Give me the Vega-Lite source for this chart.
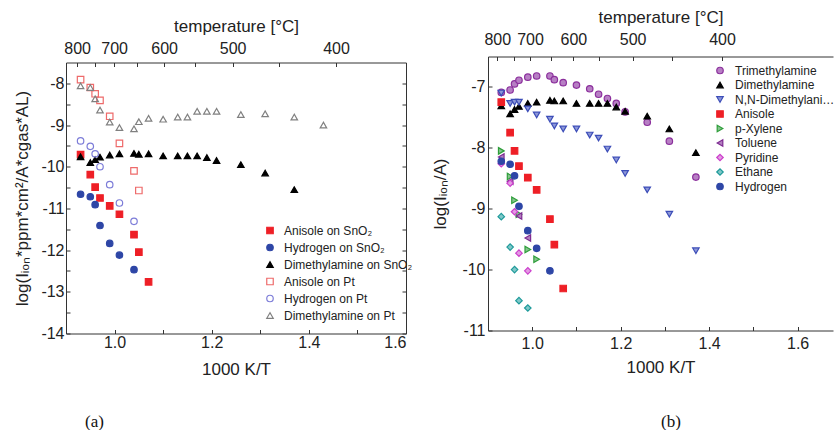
{
  "$schema": "https://vega.github.io/schema/vega-lite/v6.json",
  "background": "white",
  "padding": {"left": 13, "top": 7.5, "right": 0, "bottom": 0},
  "spacing": 18,
  "resolve": {
    "scale": {"shape": "independent", "stroke": "independent", "fill": "independent"},
    "legend": {"shape": "independent", "stroke": "independent", "fill": "independent"}
  },
  "config": {
    "view": {"stroke": null},
    "font": "Liberation Sans",
    "axis": {
      "grid": false,
      "domainColor": "#333333",
      "tickColor": "#333333",
      "labelColor": "#222222",
      "titleColor": "#222222",
      "labelFont": "Liberation Sans",
      "titleFont": "Liberation Sans",
      "labelFontSize": 16,
      "titleFontSize": 17,
      "titleFontWeight": "normal",
      "tickSize": -4,
      "labelPadding": 5
    },
    "legend": {
      "labelFont": "Liberation Sans",
      "labelColor": "#222222",
      "symbolStrokeWidth": 1.2,
      "padding": 0
    }
  },
  "hconcat": [
    {
      "spacing": -43,
      "vconcat": [
        {
          "width": 340,
          "height": 1,
          "data": {"values": [{}]},
          "mark": {"type": "point", "opacity": 0},
          "encoding": {}
        },
        {
          "width": 340,
          "height": 271,
          "title": {"text": "(a)", "orient": "bottom", "anchor": "start", "frame": "group", "dx": 19, "offset": 36, "font": "Liberation Serif", "fontSize": 17, "fontWeight": "normal", "color": "#111111"},
          "data": {"values": [
            {"x": 0.93, "y": -9.71, "s": "Anisole on SnO₂"},
            {"x": 0.95, "y": -10.19, "s": "Anisole on SnO₂"},
            {"x": 0.96, "y": -10.49, "s": "Anisole on SnO₂"},
            {"x": 0.97, "y": -10.75, "s": "Anisole on SnO₂"},
            {"x": 0.99, "y": -10.94, "s": "Anisole on SnO₂"},
            {"x": 1.01, "y": -11.14, "s": "Anisole on SnO₂"},
            {"x": 1.04, "y": -11.63, "s": "Anisole on SnO₂"},
            {"x": 1.05, "y": -12.05, "s": "Anisole on SnO₂"},
            {"x": 1.07, "y": -12.76, "s": "Anisole on SnO₂"},
            {"x": 0.93, "y": -10.66, "s": "Hydrogen on SnO₂"},
            {"x": 0.95, "y": -10.72, "s": "Hydrogen on SnO₂"},
            {"x": 0.96, "y": -10.91, "s": "Hydrogen on SnO₂"},
            {"x": 0.97, "y": -11.41, "s": "Hydrogen on SnO₂"},
            {"x": 0.99, "y": -11.84, "s": "Hydrogen on SnO₂"},
            {"x": 1.01, "y": -12.12, "s": "Hydrogen on SnO₂"},
            {"x": 1.04, "y": -12.47, "s": "Hydrogen on SnO₂"},
            {"x": 0.93, "y": -9.76, "s": "Dimethylamine on SnO₂"},
            {"x": 0.95, "y": -9.90, "s": "Dimethylamine on SnO₂"},
            {"x": 0.96, "y": -9.83, "s": "Dimethylamine on SnO₂"},
            {"x": 0.97, "y": -9.77, "s": "Dimethylamine on SnO₂"},
            {"x": 0.99, "y": -9.72, "s": "Dimethylamine on SnO₂"},
            {"x": 1.01, "y": -9.69, "s": "Dimethylamine on SnO₂"},
            {"x": 1.04, "y": -9.68, "s": "Dimethylamine on SnO₂"},
            {"x": 1.05, "y": -9.70, "s": "Dimethylamine on SnO₂"},
            {"x": 1.07, "y": -9.69, "s": "Dimethylamine on SnO₂"},
            {"x": 1.10, "y": -9.74, "s": "Dimethylamine on SnO₂"},
            {"x": 1.13, "y": -9.74, "s": "Dimethylamine on SnO₂"},
            {"x": 1.15, "y": -9.74, "s": "Dimethylamine on SnO₂"},
            {"x": 1.17, "y": -9.74, "s": "Dimethylamine on SnO₂"},
            {"x": 1.19, "y": -9.78, "s": "Dimethylamine on SnO₂"},
            {"x": 1.21, "y": -9.85, "s": "Dimethylamine on SnO₂"},
            {"x": 1.26, "y": -9.95, "s": "Dimethylamine on SnO₂"},
            {"x": 1.31, "y": -10.15, "s": "Dimethylamine on SnO₂"},
            {"x": 1.37, "y": -10.55, "s": "Dimethylamine on SnO₂"},
            {"x": 0.93, "y": -7.91, "s": "Anisole on Pt"},
            {"x": 0.95, "y": -8.10, "s": "Anisole on Pt"},
            {"x": 0.96, "y": -8.25, "s": "Anisole on Pt"},
            {"x": 0.97, "y": -8.41, "s": "Anisole on Pt"},
            {"x": 0.99, "y": -8.79, "s": "Anisole on Pt"},
            {"x": 1.01, "y": -9.44, "s": "Anisole on Pt"},
            {"x": 1.04, "y": -10.10, "s": "Anisole on Pt"},
            {"x": 1.05, "y": -10.57, "s": "Anisole on Pt"},
            {"x": 0.93, "y": -9.38, "s": "Hydrogen on Pt"},
            {"x": 0.95, "y": -9.51, "s": "Hydrogen on Pt"},
            {"x": 0.96, "y": -9.69, "s": "Hydrogen on Pt"},
            {"x": 0.97, "y": -10.0, "s": "Hydrogen on Pt"},
            {"x": 0.99, "y": -10.43, "s": "Hydrogen on Pt"},
            {"x": 1.01, "y": -10.87, "s": "Hydrogen on Pt"},
            {"x": 1.04, "y": -11.31, "s": "Hydrogen on Pt"},
            {"x": 0.93, "y": -8.06, "s": "Dimethylamine on Pt"},
            {"x": 0.95, "y": -8.10, "s": "Dimethylamine on Pt"},
            {"x": 0.96, "y": -8.37, "s": "Dimethylamine on Pt"},
            {"x": 0.97, "y": -8.64, "s": "Dimethylamine on Pt"},
            {"x": 0.99, "y": -8.93, "s": "Dimethylamine on Pt"},
            {"x": 1.01, "y": -9.06, "s": "Dimethylamine on Pt"},
            {"x": 1.04, "y": -9.09, "s": "Dimethylamine on Pt"},
            {"x": 1.05, "y": -8.92, "s": "Dimethylamine on Pt"},
            {"x": 1.07, "y": -8.84, "s": "Dimethylamine on Pt"},
            {"x": 1.10, "y": -8.86, "s": "Dimethylamine on Pt"},
            {"x": 1.13, "y": -8.81, "s": "Dimethylamine on Pt"},
            {"x": 1.15, "y": -8.81, "s": "Dimethylamine on Pt"},
            {"x": 1.17, "y": -8.67, "s": "Dimethylamine on Pt"},
            {"x": 1.19, "y": -8.67, "s": "Dimethylamine on Pt"},
            {"x": 1.21, "y": -8.67, "s": "Dimethylamine on Pt"},
            {"x": 1.26, "y": -8.75, "s": "Dimethylamine on Pt"},
            {"x": 1.31, "y": -8.73, "s": "Dimethylamine on Pt"},
            {"x": 1.37, "y": -8.81, "s": "Dimethylamine on Pt"},
            {"x": 1.43, "y": -9.0, "s": "Dimethylamine on Pt"}
          ]},
          "layer": [
            {
              "mark": {"type": "point", "size": 42, "strokeWidth": 1.2, "opacity": 1},
              "encoding": {
                "x": {"field": "x", "type": "quantitative",
                  "scale": {"domain": [0.9, 1.6], "nice": false, "zero": false},
                  "axis": {"orient": "bottom", "title": "1000 K/T", "values": [1.0, 1.1, 1.2, 1.3, 1.4, 1.5, 1.6],
                    "labelExpr": "indexof([1, 1.2, 1.4, 1.6], datum.value) >= 0 ? format(datum.value, '.1f') : ''",
                    "labelPadding": 5, "titlePadding": 11}},
                "y": {"field": "y", "type": "quantitative",
                  "scale": {"domain": [-14, -7.5], "nice": false, "zero": false},
                  "axis": {"orient": "left", "title": "log(Iᵢₒₙ*ppm*cm²/A*cgas*AL)",
                    "values": [-14, -13.5, -13, -12.5, -12, -11.5, -11, -10.5, -10, -9.5, -9, -8.5, -8],
                    "labelExpr": "datum.value % 1 == 0 ? '-' + abs(datum.value) : ''",
                    "labelPadding": 6, "titlePadding": 9}},
                "shape": {"field": "s", "type": "nominal",
                  "scale": {"domain": ["Anisole on SnO₂", "Hydrogen on SnO₂", "Dimethylamine on SnO₂", "Anisole on Pt", "Hydrogen on Pt", "Dimethylamine on Pt"],
                    "range": ["square", "circle", "triangle-up", "square", "circle", "triangle-up"]},
                  "legend": {"title": null, "orient": "none", "legendX": 198, "legendY": 168, "labelFontSize": 12, "rowPadding": 5, "symbolSize": 42, "labelOffset": 8}},
                "stroke": {"field": "s", "type": "nominal",
                  "scale": {"domain": ["Anisole on SnO₂", "Hydrogen on SnO₂", "Dimethylamine on SnO₂", "Anisole on Pt", "Hydrogen on Pt", "Dimethylamine on Pt"],
                    "range": ["#ee1f26", "#2e46a6", "#000000", "#ee6a6a", "#7c7cd8", "#808080"]},
                  "legend": {"title": null, "orient": "none", "legendX": 198, "legendY": 168, "labelFontSize": 12, "rowPadding": 5, "symbolSize": 42, "labelOffset": 8}},
                "fill": {"field": "s", "type": "nominal",
                  "scale": {"domain": ["Anisole on SnO₂", "Hydrogen on SnO₂", "Dimethylamine on SnO₂", "Anisole on Pt", "Hydrogen on Pt", "Dimethylamine on Pt"],
                    "range": ["#ee1f26", "#2e46a6", "#000000", "transparent", "transparent", "transparent"]},
                  "legend": {"title": null, "orient": "none", "legendX": 198, "legendY": 168, "labelFontSize": 12, "rowPadding": 5, "symbolSize": 42, "labelOffset": 8}}
              }
            },
            {
              "mark": {"type": "point", "opacity": 0},
              "encoding": {
                "x": {"field": "x", "type": "quantitative",
                  "axis": {"orient": "top", "title": "temperature [°C]",
                    "values": [0.923, 0.999, 1.102, 1.243, 1.456, 0.959, 1.046, 1.166, 1.339],
                    "labelExpr": "datum.value == 0.923 ? '800' : datum.value == 0.999 ? '700' : datum.value == 1.102 ? '600' : datum.value == 1.243 ? '500' : datum.value == 1.456 ? '400' : ''",
                    "labelPadding": 10, "titlePadding": 5}},
                "y": {"field": "y", "type": "quantitative",
                  "axis": {"orient": "right", "title": null, "labels": false,
                    "values": [-14, -13.5, -13, -12.5, -12, -11.5, -11, -10.5, -10, -9.5, -9, -8.5, -8]}}
              }
            }
          ],
          "resolve": {"axis": {"x": "independent", "y": "independent"}}
        }
      ]
    },
    {
      "width": 345,
      "height": 274,
      "title": {"text": "(b)", "orient": "bottom", "anchor": "start", "frame": "group", "dx": 173, "offset": 38, "font": "Liberation Serif", "fontSize": 17, "fontWeight": "normal", "color": "#111111"},
      "data": {"values": [
        {"x": 0.93, "y": -7.09, "s": "Trimethylamine"},
        {"x": 0.95, "y": -7.05, "s": "Trimethylamine"},
        {"x": 0.96, "y": -6.95, "s": "Trimethylamine"},
        {"x": 0.97, "y": -6.89, "s": "Trimethylamine"},
        {"x": 0.99, "y": -6.84, "s": "Trimethylamine"},
        {"x": 1.01, "y": -6.82, "s": "Trimethylamine"},
        {"x": 1.04, "y": -6.82, "s": "Trimethylamine"},
        {"x": 1.05, "y": -6.88, "s": "Trimethylamine"},
        {"x": 1.07, "y": -6.93, "s": "Trimethylamine"},
        {"x": 1.10, "y": -6.97, "s": "Trimethylamine"},
        {"x": 1.13, "y": -7.03, "s": "Trimethylamine"},
        {"x": 1.15, "y": -7.12, "s": "Trimethylamine"},
        {"x": 1.17, "y": -7.19, "s": "Trimethylamine"},
        {"x": 1.19, "y": -7.27, "s": "Trimethylamine"},
        {"x": 1.21, "y": -7.41, "s": "Trimethylamine"},
        {"x": 1.26, "y": -7.58, "s": "Trimethylamine"},
        {"x": 1.31, "y": -7.89, "s": "Trimethylamine"},
        {"x": 1.37, "y": -8.48, "s": "Trimethylamine"},
        {"x": 0.93, "y": -7.31, "s": "Dimethylamine"},
        {"x": 0.95, "y": -7.44, "s": "Dimethylamine"},
        {"x": 0.96, "y": -7.37, "s": "Dimethylamine"},
        {"x": 0.97, "y": -7.32, "s": "Dimethylamine"},
        {"x": 0.99, "y": -7.27, "s": "Dimethylamine"},
        {"x": 1.01, "y": -7.25, "s": "Dimethylamine"},
        {"x": 1.04, "y": -7.22, "s": "Dimethylamine"},
        {"x": 1.05, "y": -7.23, "s": "Dimethylamine"},
        {"x": 1.07, "y": -7.23, "s": "Dimethylamine"},
        {"x": 1.10, "y": -7.27, "s": "Dimethylamine"},
        {"x": 1.13, "y": -7.27, "s": "Dimethylamine"},
        {"x": 1.15, "y": -7.27, "s": "Dimethylamine"},
        {"x": 1.17, "y": -7.27, "s": "Dimethylamine"},
        {"x": 1.19, "y": -7.33, "s": "Dimethylamine"},
        {"x": 1.21, "y": -7.40, "s": "Dimethylamine"},
        {"x": 1.26, "y": -7.48, "s": "Dimethylamine"},
        {"x": 1.31, "y": -7.69, "s": "Dimethylamine"},
        {"x": 1.37, "y": -8.08, "s": "Dimethylamine"},
        {"x": 0.93, "y": -7.10, "s": "N,N-Dimethylaniline"},
        {"x": 0.95, "y": -7.27, "s": "N,N-Dimethylaniline"},
        {"x": 0.96, "y": -7.25, "s": "N,N-Dimethylaniline"},
        {"x": 0.97, "y": -7.25, "s": "N,N-Dimethylaniline"},
        {"x": 0.99, "y": -7.36, "s": "N,N-Dimethylaniline"},
        {"x": 1.01, "y": -7.46, "s": "N,N-Dimethylaniline"},
        {"x": 1.04, "y": -7.53, "s": "N,N-Dimethylaniline"},
        {"x": 1.05, "y": -7.64, "s": "N,N-Dimethylaniline"},
        {"x": 1.07, "y": -7.69, "s": "N,N-Dimethylaniline"},
        {"x": 1.10, "y": -7.69, "s": "N,N-Dimethylaniline"},
        {"x": 1.13, "y": -7.79, "s": "N,N-Dimethylaniline"},
        {"x": 1.15, "y": -7.84, "s": "N,N-Dimethylaniline"},
        {"x": 1.17, "y": -8.02, "s": "N,N-Dimethylaniline"},
        {"x": 1.19, "y": -8.20, "s": "N,N-Dimethylaniline"},
        {"x": 1.21, "y": -8.42, "s": "N,N-Dimethylaniline"},
        {"x": 1.26, "y": -8.69, "s": "N,N-Dimethylaniline"},
        {"x": 1.31, "y": -9.09, "s": "N,N-Dimethylaniline"},
        {"x": 1.37, "y": -9.69, "s": "N,N-Dimethylaniline"},
        {"x": 0.93, "y": -7.25, "s": "Anisole"},
        {"x": 0.95, "y": -7.75, "s": "Anisole"},
        {"x": 0.96, "y": -8.05, "s": "Anisole"},
        {"x": 0.97, "y": -8.30, "s": "Anisole"},
        {"x": 0.99, "y": -8.49, "s": "Anisole"},
        {"x": 1.01, "y": -8.69, "s": "Anisole"},
        {"x": 1.04, "y": -9.17, "s": "Anisole"},
        {"x": 1.05, "y": -9.59, "s": "Anisole"},
        {"x": 1.07, "y": -10.31, "s": "Anisole"},
        {"x": 0.93, "y": -8.05, "s": "p-Xylene"},
        {"x": 0.95, "y": -8.47, "s": "p-Xylene"},
        {"x": 0.96, "y": -8.86, "s": "p-Xylene"},
        {"x": 0.97, "y": -9.09, "s": "p-Xylene"},
        {"x": 0.99, "y": -9.67, "s": "p-Xylene"},
        {"x": 1.01, "y": -9.83, "s": "p-Xylene"},
        {"x": 0.93, "y": -8.15, "s": "Toluene"},
        {"x": 0.95, "y": -8.55, "s": "Toluene"},
        {"x": 0.97, "y": -9.12, "s": "Toluene"},
        {"x": 0.99, "y": -9.48, "s": "Toluene"},
        {"x": 0.93, "y": -8.26, "s": "Pyridine"},
        {"x": 0.95, "y": -8.58, "s": "Pyridine"},
        {"x": 0.96, "y": -9.05, "s": "Pyridine"},
        {"x": 0.97, "y": -9.73, "s": "Pyridine"},
        {"x": 0.99, "y": -10.02, "s": "Pyridine"},
        {"x": 0.93, "y": -9.13, "s": "Ethane"},
        {"x": 0.95, "y": -9.63, "s": "Ethane"},
        {"x": 0.96, "y": -10.0, "s": "Ethane"},
        {"x": 0.97, "y": -10.51, "s": "Ethane"},
        {"x": 0.99, "y": -10.63, "s": "Ethane"},
        {"x": 0.93, "y": -8.22, "s": "Hydrogen"},
        {"x": 0.95, "y": -8.27, "s": "Hydrogen"},
        {"x": 0.96, "y": -8.46, "s": "Hydrogen"},
        {"x": 0.97, "y": -8.96, "s": "Hydrogen"},
        {"x": 0.99, "y": -9.36, "s": "Hydrogen"},
        {"x": 1.01, "y": -9.65, "s": "Hydrogen"},
        {"x": 1.04, "y": -10.02, "s": "Hydrogen"}
      ]},
      "layer": [
        {
          "mark": {"type": "point", "size": 42, "strokeWidth": 1.2, "opacity": 1},
          "encoding": {
            "x": {"field": "x", "type": "quantitative",
              "scale": {"domain": [0.9, 1.68], "nice": false, "zero": false},
              "axis": {"orient": "bottom", "title": "1000 K/T", "values": [1.0, 1.1, 1.2, 1.3, 1.4, 1.5, 1.6],
                "labelExpr": "indexof([1, 1.2, 1.4, 1.6], datum.value) >= 0 ? format(datum.value, '.1f') : ''",
                "labelPadding": 9, "titlePadding": 8}},
            "y": {"field": "y", "type": "quantitative",
              "scale": {"domain": [-11, -6.5], "nice": false, "zero": false},
              "axis": {"orient": "left", "title": "log(Iᵢₒₙ/A)",
                "values": [-11, -10.5, -10, -9.5, -9, -8.5, -8, -7.5, -7],
                "labelExpr": "datum.value % 1 == 0 ? '-' + abs(datum.value) : ''",
                "labelPadding": 7, "titlePadding": 12}},
            "shape": {"field": "s", "type": "nominal",
              "scale": {"domain": ["Trimethylamine", "Dimethylamine", "N,N-Dimethylaniline", "Anisole", "p-Xylene", "Toluene", "Pyridine", "Ethane", "Hydrogen"],
                "range": ["circle", "triangle-up", "triangle-down", "square", "triangle-right", "triangle-left", "diamond", "diamond", "circle"]},
              "legend": {"title": null, "orient": "none", "legendX": 226, "legendY": 8, "labelFontSize": 12, "rowPadding": 2.5, "symbolSize": 42, "labelOffset": 9, "labelLimit": 100}},
            "stroke": {"field": "s", "type": "nominal",
              "scale": {"domain": ["Trimethylamine", "Dimethylamine", "N,N-Dimethylaniline", "Anisole", "p-Xylene", "Toluene", "Pyridine", "Ethane", "Hydrogen"],
                "range": ["#8b2f9c", "#000000", "#3c4db8", "#ee1f26", "#2e9e3a", "#7e2a92", "#cc3fcc", "#1e9a9a", "#2e46a6"]},
              "legend": {"title": null, "orient": "none", "legendX": 226, "legendY": 8, "labelFontSize": 12, "rowPadding": 2.5, "symbolSize": 42, "labelOffset": 9, "labelLimit": 100}},
            "fill": {"field": "s", "type": "nominal",
              "scale": {"domain": ["Trimethylamine", "Dimethylamine", "N,N-Dimethylaniline", "Anisole", "p-Xylene", "Toluene", "Pyridine", "Ethane", "Hydrogen"],
                "range": ["#b77fc4", "#000000", "#8c97d8", "#ee1f26", "#86c48e", "#b27fbf", "#e29be2", "#80c8c8", "#2e46a6"]},
              "legend": {"title": null, "orient": "none", "legendX": 226, "legendY": 8, "labelFontSize": 12, "rowPadding": 2.5, "symbolSize": 42, "labelOffset": 9, "labelLimit": 100}}
          }
        },
        {
          "mark": {"type": "point", "opacity": 0},
          "encoding": {
            "x": {"field": "x", "type": "quantitative",
              "axis": {"orient": "top", "title": "temperature [°C]",
                "values": [0.921, 0.995, 1.093, 1.227, 1.429, 0.959, 1.042, 1.151, 1.317],
                "labelExpr": "datum.value == 0.921 ? '800' : datum.value == 0.995 ? '700' : datum.value == 1.093 ? '600' : datum.value == 1.227 ? '500' : datum.value == 1.429 ? '400' : ''",
                "labelPadding": 13.5, "titlePadding": 5}},
            "y": {"field": "y", "type": "quantitative"}
          }
        }
      ],
      "resolve": {"axis": {"x": "independent"}}
    }
  ]
}
